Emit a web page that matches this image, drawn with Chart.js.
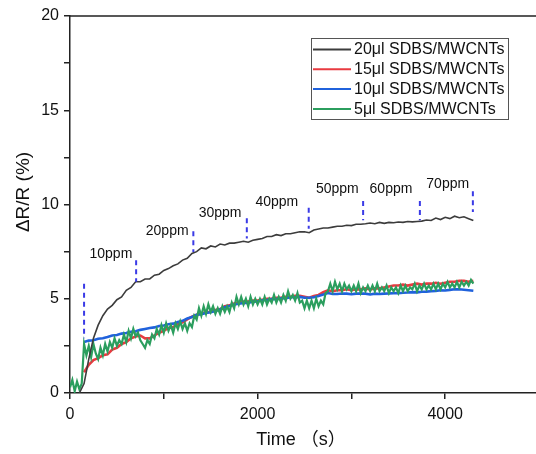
<!DOCTYPE html>
<html><head><meta charset="utf-8">
<script src="https://cdn.jsdelivr.net/npm/chart.js@4.4.1/dist/chart.umd.min.js"></script>
<style>
html,body{margin:0;padding:0;background:#fff;overflow:hidden;width:536px;height:454px}
#wrap{position:relative;width:545px;height:454px}
</style></head>
<body><div id="wrap"><canvas id="c" width="545" height="454"></canvas></div>
<script>
// time grid (s) for the 20/15/10 µl series
const times = [
  0,50,100,150,200,250,300,350,400,450,
  500,550,600,650,700,750,800,850,900,950,
  1000,1050,1100,1150,1200,1250,1300,1350,1400,1450,
  1500,1550,1600,1650,1700,1750,1800,1850,1900,1950,
  2000,2050,2100,2150,2200,2250,2300,2350,2400,2450,
  2500,2550,2600,2650,2700,2750,2800,2850,2900,2950,
  3000,3050,3100,3150,3200,3250,3300,3350,3400,3450,
  3500,3550,3600,3650,3700,3750,3800,3850,3900,3950,
  4000,4050,4100,4150,4200,4250,4300
];
const s20 = [
  null,null,0,0.5,1.8,2.9,3.6,4.1,4.45,4.65,
  4.95,5.1,5.45,5.6,5.9,5.9,6.05,6.05,6.25,6.3,
  6.5,6.6,6.75,6.85,7.05,7.15,7.4,7.5,7.7,7.65,
  7.8,7.75,7.9,7.85,7.95,7.95,8.0,8.05,8.0,8.1,
  8.15,8.2,8.3,8.3,8.4,8.35,8.45,8.45,8.5,8.55,
  8.55,8.5,8.65,8.7,8.75,8.75,8.8,8.85,8.85,8.9,
  8.88,8.95,8.95,8.98,9.02,8.98,9.05,9.0,9.05,9.03,
  9.07,9.05,9.1,9.08,9.1,9.12,9.18,9.15,9.28,9.2,
  9.32,9.25,9.38,9.3,9.35,9.25,9.15
];
const s15 = [
  null,null,null,1.1,1.5,1.75,1.85,2.0,2.05,2.3,
  2.4,2.6,2.7,2.9,3.0,3.05,2.9,2.9,3.05,3.2,
  3.3,3.45,3.5,3.65,3.75,3.9,4.05,4.15,4.2,4.3,
  4.3,4.4,4.45,4.6,4.65,4.75,4.8,4.85,4.85,4.9,
  4.9,4.95,5.0,5.0,5.05,5.05,5.1,5.1,5.15,5.15,
  5.1,5.05,5.15,5.2,5.35,5.45,5.4,5.45,5.45,5.5,
  5.45,5.5,5.5,5.55,5.5,5.55,5.55,5.6,5.65,5.7,
  5.7,5.75,5.7,5.75,5.8,5.75,5.8,5.8,5.85,5.8,
  5.85,5.9,5.9,5.95,5.95,5.9,5.95
];
const s10 = [
  null,null,null,2.7,2.78,2.8,2.88,2.9,2.97,3.05,
  3.08,3.15,3.18,3.25,3.27,3.35,3.4,3.45,3.48,3.55,
  3.58,3.65,3.68,3.77,3.83,3.95,4.03,4.15,4.18,4.25,
  4.28,4.35,4.43,4.55,4.62,4.7,4.73,4.78,4.78,4.85,
  4.86,4.92,4.93,4.98,4.98,5.02,5.03,5.08,5.08,5.1,
  5.05,5.05,5.08,5.15,5.22,5.3,5.25,5.25,5.28,5.27,
  5.24,5.27,5.28,5.27,5.23,5.27,5.25,5.27,5.28,5.3,
  5.29,5.32,5.33,5.35,5.34,5.37,5.38,5.4,5.42,5.45,
  5.44,5.47,5.5,5.5,5.48,5.45,5.42
];
// denser time grid (s) for the noisy 5 µl series
const times5 = [
  0,25,50,75,100,125,150,175,200,225,
  250,275,300,325,350,375,400,425,450,475,
  500,525,550,575,600,625,650,675,700,725,
  750,775,800,825,850,875,900,925,950,975,
  1000,1025,1050,1075,1100,1125,1150,1175,1200,1225,
  1250,1275,1300,1325,1350,1375,1400,1425,1450,1475,
  1500,1525,1550,1575,1600,1625,1650,1675,1700,1725,
  1750,1775,1800,1825,1850,1875,1900,1925,1950,1975,
  2000,2025,2050,2075,2100,2125,2150,2175,2200,2225,
  2250,2275,2300,2325,2350,2375,2400,2425,2450,2475,
  2500,2525,2550,2575,2600,2625,2650,2675,2700,2725,
  2750,2775,2800,2825,2850,2875,2900,2925,2950,2975,
  3000,3025,3050,3075,3100,3125,3150,3175,3200,3225,
  3250,3275,3300,3325,3350,3375,3400,3425,3450,3475,
  3500,3525,3550,3575,3600,3625,3650,3675,3700,3725,
  3750,3775,3800,3825,3850,3875,3900,3925,3950,3975,
  4000,4025,4050,4075,4100,4125,4150,4175,4200,4225,
  4250,4275,4300
];
const s5 = [
  0.3,0.7,0.1,0.6,0.2,0.5,2.6,2.0,2.5,1.9,
  2.6,2.1,1.8,2.4,2.0,2.6,2.2,2.7,2.4,2.9,
  2.5,2.8,2.6,3.1,2.7,3.3,2.9,3.4,3.0,3.2,
  2.8,2.6,2.4,2.8,2.6,3.1,2.9,3.4,3.1,3.6,
  3.2,3.7,3.3,3.6,3.2,3.7,3.4,3.8,3.4,3.7,
  3.3,3.7,3.5,4.1,3.9,4.5,4.1,4.6,4.2,4.7,
  4.3,4.6,4.2,4.5,4.2,4.6,4.3,4.6,4.3,4.8,
  4.5,5.1,4.7,5.1,4.7,5.0,4.6,5.1,4.7,5.0,
  4.7,5.0,4.7,5.1,4.7,5.0,4.8,5.2,4.8,5.1,
  4.8,5.2,4.9,5.4,5.0,5.2,4.9,5.3,4.8,4.9,
  4.5,4.9,4.5,4.9,4.5,5.0,4.6,4.9,4.7,5.3,
  5.4,5.8,5.4,5.9,5.5,5.8,5.4,5.8,5.5,5.7,
  5.4,5.7,5.4,5.8,5.3,5.6,5.4,5.7,5.4,5.7,
  5.4,5.8,5.4,5.6,5.4,5.7,5.3,5.6,5.4,5.6,
  5.3,5.7,5.4,5.7,5.4,5.6,5.5,5.8,5.4,5.7,
  5.5,5.8,5.5,5.7,5.5,5.8,5.5,5.8,5.5,5.8,
  5.6,5.9,5.6,5.8,5.6,5.9,5.6,5.9,5.7,5.9,
  5.7,6.0,5.8
];
const seriesLabels = ['20μl SDBS/MWCNTs','15μl SDBS/MWCNTs','10μl SDBS/MWCNTs','5μl SDBS/MWCNTs'];
const seriesColors = ['#3c3c3c','#e83a40','#2062dc','#2b9e5e'];

// gas-injection markers
const markerTimes  = [150,705,1315,1885,2545,3125,3730,4295];
const markerTop    = [5.8,7.04,8.58,9.27,9.83,10.18,10.18,10.7];
const markerBottom = [2.9,5.9,7.48,8.2,8.72,9.16,9.16,9.6];
const ppmLabels = ['10ppm','20ppm','30ppm','40ppm','50ppm','60ppm','70ppm'];
const ppmTimes  = [436,1036,1600,2205,2850,3422,4027];
const ppmValues = [7.39,8.6,9.52,10.13,10.79,10.79,11.07];

const FONT = "'Liberation Sans', Arial, sans-serif";

const pts = (tt, arr) => tt.map((t,i)=>({x:t,y:arr[i]}));
const seriesData = [pts(times,s20), pts(times,s15), pts(times,s10), pts(times5,s5)];
const seriesOrder = [0,3,2,1];
const seriesWidth = [1.6,2.6,2.6,2.2];

const datasets = seriesData.map((d,k)=>({
  label: seriesLabels[k], data: d, borderColor: seriesColors[k],
  borderWidth: seriesWidth[k], pointRadius: 0, tension: 0, fill: false,
  order: seriesOrder[k], spanGaps: false
}));
markerTimes.forEach((t,i)=>{
  datasets.push({label:'marker'+i, data:[{x:t,y:markerTop[i]},{x:t,y:markerBottom[i]}],
    borderColor:'#3a3ae6', borderWidth:2, borderDash:[5,4], pointRadius:0, order:-1});
});

const decor = {
  id:'decor',
  afterDraw(chart){
    const {ctx, chartArea:a, scales:{x,y}} = chart;
    ctx.save();
    ctx.strokeStyle='#222'; ctx.lineWidth=1.5;
    ctx.beginPath(); ctx.moveTo(a.left, a.top); ctx.lineTo(a.right, a.top); ctx.lineTo(a.right,a.bottom); ctx.stroke();
    ctx.fillStyle='#111'; ctx.font='14px '+FONT; ctx.textAlign='center'; ctx.textBaseline='middle';
    ppmLabels.forEach((s,i)=>ctx.fillText(s, x.getPixelForValue(ppmTimes[i]), y.getPixelForValue(ppmValues[i])));
    const lx=311, ly=38, lw=197, lh=81;
    ctx.fillStyle='#fff'; ctx.fillRect(lx,ly,lw,lh);
    ctx.strokeStyle='#555'; ctx.lineWidth=1; ctx.strokeRect(lx+0.5,ly+0.5,lw,lh);
    ctx.font='16px '+FONT; ctx.textAlign='left'; ctx.textBaseline='middle';
    seriesLabels.forEach((s,k)=>{
      const yy = 49.5 + k*19.8;
      ctx.strokeStyle=seriesColors[k]; ctx.lineWidth=2;
      ctx.beginPath(); ctx.moveTo(313,yy); ctx.lineTo(351,yy); ctx.stroke();
      ctx.fillStyle='#111'; ctx.fillText(s,354,yy+0.5);
    });
    ctx.fillStyle='#111'; ctx.textAlign='center'; ctx.textBaseline='middle';
    ctx.font="18px 'Liberation Sans', Arial, 'Noto Sans CJK SC', sans-serif";
    ctx.fillText('Time （s）', 301, 440);
    ctx.save(); ctx.translate(24,192); ctx.rotate(-Math.PI/2);
    ctx.font='19px '+FONT; ctx.fillText('ΔR/R (%)',0,0); ctx.restore();
    ctx.restore();
  }
};

new Chart(document.getElementById('c'), {
  type:'line',
  data:{datasets},
  options:{
    responsive:false, animation:false,
    layout:{padding:{left:0,right:6,top:16,bottom:0}},
    plugins:{legend:{display:false}, tooltip:{enabled:false}},
    scales:{
      x:{type:'linear', min:0, max:5000,
        afterFit(s){ s.height = 61; },
        ticks:{stepSize:1000, autoSkip:false, maxRotation:0, padding:6, color:'#111',
          font:{size:16, family:FONT}, callback:v=> v%2000===0 ? String(v) : ''},
        grid:{drawOnChartArea:false, drawTicks:true, tickLength:6, color:'#222', lineWidth:1.5},
        border:{display:true, color:'#222', width:1.5}},
      y:{type:'linear', min:0, max:20,
        afterFit(s){ s.width = 70; },
        ticks:{stepSize:2.5, autoSkip:false, padding:5, color:'#111',
          font:{size:16, family:FONT}, callback:v=> v%5===0 ? String(v) : ''},
        grid:{drawOnChartArea:false, drawTicks:true, tickLength:6, color:'#222', lineWidth:1.5},
        border:{display:true, color:'#222', width:1.5}}
    }
  },
  plugins:[decor]
});
</script>
</body></html>
